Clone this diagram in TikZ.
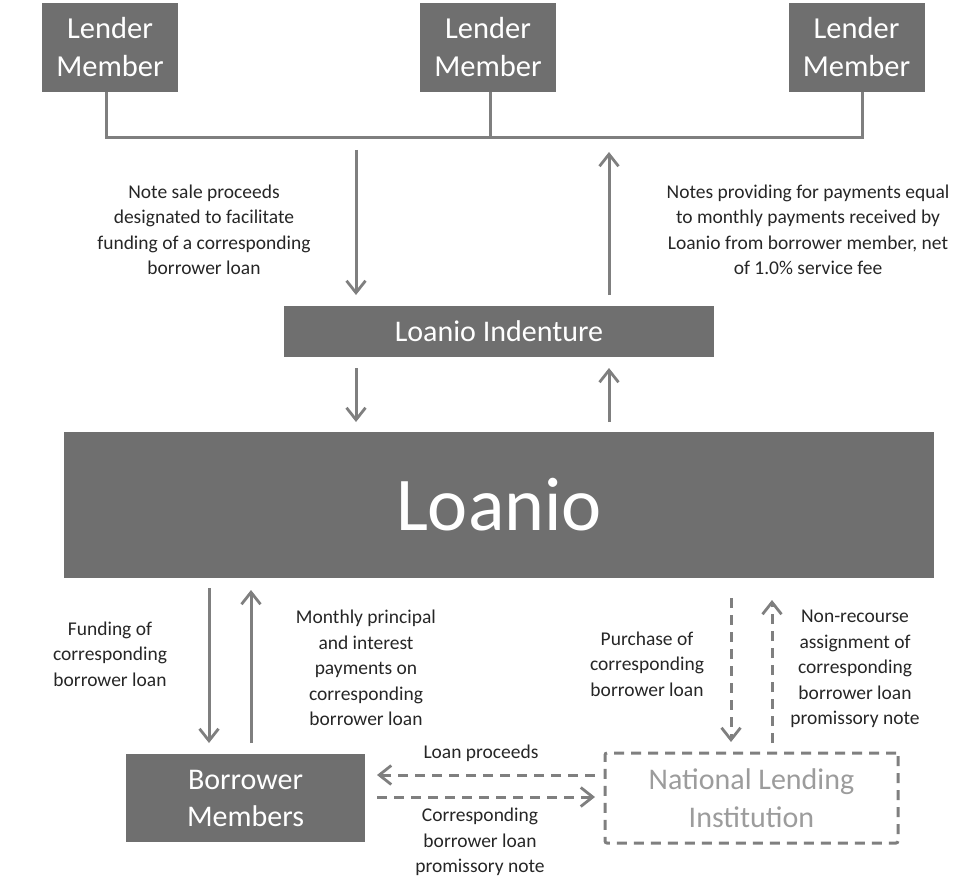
\documentclass[tikz,border=0pt]{standalone}
\usepackage{fontspec}
\setmainfont{Carlito}
\usetikzlibrary{arrows.meta}
\definecolor{boxgray}{HTML}{6F6F6F}
\definecolor{linegray}{HTML}{7F7F7F}
\definecolor{txt}{HTML}{262626}
\definecolor{nligray}{HTML}{9C9C9C}
\begin{document}
\begin{tikzpicture}[x=1pt,y=-1pt,
  box/.style={fill=boxgray, draw=none, text=white, align=center, inner sep=0pt},
  lbl/.style={text=txt, align=center, font=\fontsize{19.5}{25.5}\selectfont, inner sep=0pt},
  arr/.style={draw=linegray, line width=3pt, -{Straight Barb[length=12pt,width=19pt,line width=2.8pt]}},
  darr/.style={arr, dash pattern=on 10pt off 7pt},
  bus/.style={draw=linegray, line width=3pt}]
\useasboundingbox (0,0) rectangle (973,885);

% lender members
\node[box, minimum width=136pt, minimum height=89pt, font=\fontsize{30.5}{38}\selectfont] (L1) at (110,47.5) {Lender\\Member};
\node[box, minimum width=136pt, minimum height=89pt, font=\fontsize{30.5}{38}\selectfont] (L2) at (488,47.5) {Lender\\Member};
\node[box, minimum width=136pt, minimum height=89pt, font=\fontsize{30.5}{38}\selectfont] (L3) at (856.5,47.5) {Lender\\Member};
\coordinate (b1) at (106,138);
\coordinate (b2) at (490,138);
\coordinate (b3) at (862,138);
\draw[bus] (b1 |- L1.south) -- (b1) -- (b3) -- (b3 |- L3.south);
\draw[bus] (b2 |- L2.south) -- (b2);

% indenture and Loanio
\node[box, minimum width=430pt, minimum height=51pt, font=\fontsize{30}{36}\selectfont] (ind) at (499,331.5) {Loanio Indenture};
\node[box, minimum width=870pt, minimum height=146pt, font=\fontsize{76}{90}\selectfont] (loanio) at (499,505) {Loanio};

% borrower and NLI
\node[box, minimum width=239pt, minimum height=88pt, font=\fontsize{30}{37}\selectfont] (bm) at (245.5,798) {Borrower\\Members};
\node[draw=linegray, line width=3pt, dash pattern=on 10pt off 7pt, rounded corners=2pt, text=nligray, align=center, inner sep=0pt,
      minimum width=293pt, minimum height=90pt, font=\fontsize{30}{38}\selectfont] (nli) at (751.5,798) {National Lending\\Institution};

% arrow end points
\coordinate (a1s) at (356,150);  \coordinate (a1e) at (356,295);
\coordinate (a2s) at (609,295);  \coordinate (a2e) at (609,152);
\coordinate (a3s) at (356,368);  \coordinate (a3e) at (356,422);
\coordinate (a4s) at (609,422);  \coordinate (a4e) at (609,368);
\coordinate (a5s) at (209,588);  \coordinate (a5e) at (209,743);
\coordinate (a6s) at (251,743);  \coordinate (a6e) at (251,590);
\coordinate (a7s) at (731,598);  \coordinate (a7e) at (731,742);
\coordinate (a8s) at (772,743);  \coordinate (a8e) at (772,600);
\coordinate (a9s) at (595,775);  \coordinate (a9e) at (377,775);
\coordinate (a10s) at (377,797); \coordinate (a10e) at (595,797);

% arrows
\draw[arr] (a1s) -- (a1e);
\draw[arr] (a2s) -- (a2e);
\draw[arr] (a3s) -- (a3e);
\draw[arr] (a4s) -- (a4e);
\draw[arr] (a5s) -- (a5e);
\draw[arr] (a6s) -- (a6e);
\draw[darr] (a7s) -- (a7e);
\draw[darr] (a8s) -- (a8e);
\draw[darr] (a9s) -- (a9e);
\draw[darr] (a10s) -- (a10e);

% labels
\node[lbl] (t1) at (204,230) {Note sale proceeds\\designated to facilitate\\funding of a corresponding\\borrower loan};
\node[lbl] (t2) at (808,230) {Notes providing for payments equal\\to monthly payments received by\\Loanio from borrower member, net\\of 1.0\% service fee};
\node[lbl] (t3) at (110,654) {Funding of\\corresponding\\borrower loan};
\node[lbl] (t4) at (366,668) {Monthly principal\\and interest\\payments on\\corresponding\\borrower loan};
\node[lbl] (t5) at (481,753) {Loan proceeds};
\node[lbl] (t6) at (480,842) {Corresponding\\borrower loan\\promissory note};
\node[lbl] (t7) at (647,664) {Purchase of\\corresponding\\borrower loan};
\node[lbl] (t8) at (855,669) {Non-recourse\\assignment of\\corresponding\\borrower loan\\promissory note};
\end{tikzpicture}
\end{document}
